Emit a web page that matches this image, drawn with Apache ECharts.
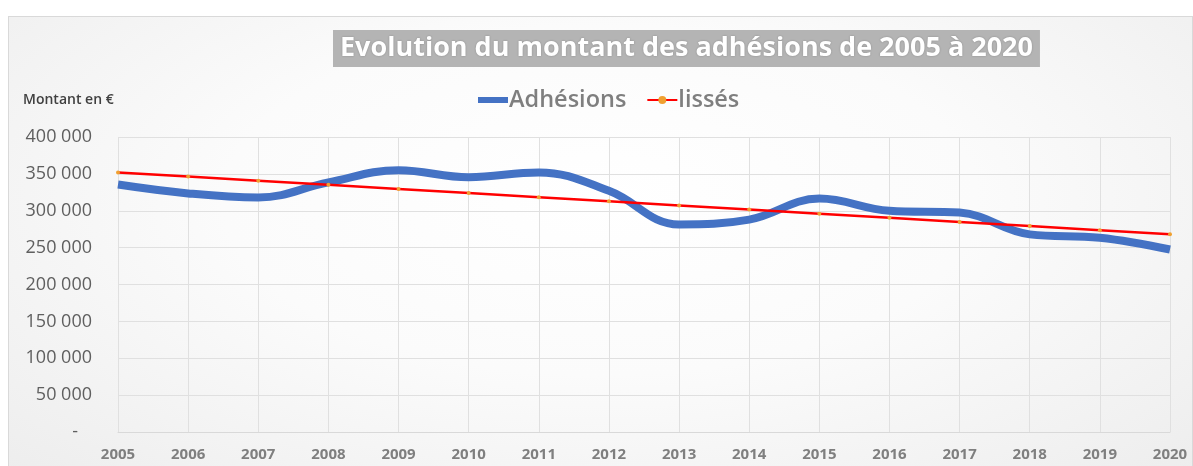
<!DOCTYPE html>
<html>
<head>
<meta charset="utf-8">
<script src="https://cdn.jsdelivr.net/npm/echarts@6/dist/echarts.min.js"></script>
<style>
  html, body { margin: 0; padding: 0; background: #ffffff; width: 1193px; height: 466px; overflow: hidden; }
  #box { position: absolute; left: 8px; top: 16px; width: 1185px; height: 460px; box-sizing: border-box;
         border: 1px solid #d9d9d9;
         background: radial-gradient(ellipse at 50% 40%, #ffffff 0%, #fbfbfb 45%, #ededed 100%); }
  #chart { position: absolute; left: 0; top: 0; width: 1185px; height: 450px; }
</style>
</head>
<body>
<div id="box"><div id="chart"></div></div>
<script>
const years = ['2005','2006','2007','2008','2009','2010','2011','2012','2013','2014','2015','2016','2017','2018','2019','2020'];
const adhesions = [335500, 323500, 318000, 338500, 355000, 345500, 352000, 327000, 281500, 288000, 316500, 300000, 297500, 268000, 263500, 247500];
const lisses = [352000, 346400, 340800, 335200, 329600, 324000, 318400, 312800, 307200, 301600, 296000, 290400, 284800, 279200, 273600, 268000];
const titleText = 'Evolution du montant des adhésions de 2005 à 2020';
const yAxisTitle = 'Montant en €';

const chart = echarts.init(document.getElementById('chart'), null, { renderer: 'canvas' });
const font = "'Open Sans', 'Noto Sans', sans-serif";
chart.setOption({
  backgroundColor: 'transparent',
  animation: false,
  title: {
    text: titleText,
    left: 324, top: 13,
    backgroundColor: '#b4b4b4',
    padding: [2, 7, 2, 7],
    textStyle: { color: '#ffffff', fontSize: 27, fontWeight: 'bold', fontFamily: font, lineHeight: 33,
                 textShadowColor: 'rgba(0,0,0,0.25)', textShadowBlur: 2 }
  },
  legend: {
    left: 464, top: 66,
    itemGap: 20,
    itemWidth: 30, itemHeight: 10,
    textStyle: { color: '#7f7f7f', fontSize: 23.5, fontWeight: 600, fontFamily: font, padding: [0,0,0,-4] },
    data: [
      { name: 'Adhésions', icon: 'path://M0,3 L30,3 L30,9 L0,9 Z', itemStyle: { color: '#4472c4' } },
      { name: 'lissés' }
    ]
  },
  graphic: [{
    type: 'text', left: 14, top: 76,
    style: { text: yAxisTitle, fill: '#404040', font: "600 14px 'Open Sans', sans-serif" }
  }],
  grid: { left: 109, right: 24, top: 120, bottom: 35 },
  xAxis: {
    type: 'category',
    data: years,
    boundaryGap: false,
    axisLine: { lineStyle: { color: '#d9d9d9' } },
    axisTick: { show: false },
    splitLine: { show: true, lineStyle: { color: '#e0e0e0' } },
    axisLabel: { color: '#7f7f7f', fontSize: 15, fontWeight: 'bold', fontFamily: font, margin: 15 }
  },
  yAxis: {
    type: 'value',
    min: 0, max: 400000, interval: 50000,
    axisLine: { show: false },
    axisTick: { show: false },
    splitLine: { lineStyle: { color: '#e0e0e0' } },
    axisLabel: {
      color: '#5f5f5f', fontSize: 18, fontFamily: font, margin: 26,
      formatter: function (v) {
        if (v === 0) return '-\u00a0\u00a0\u00a0';
        return String(v).replace(/\B(?=(\d{3})+(?!\d))/g, ' ');
      }
    }
  },
  series: [
    {
      name: 'Adhésions', type: 'line', data: adhesions, smooth: 0.4,
      showSymbol: false, symbol: 'none',
      lineStyle: { color: '#4472c4', width: 8 },
      itemStyle: { color: '#4472c4' },
      z: 2
    },
    {
      name: 'lissés', type: 'line', data: lisses,
      symbol: 'circle', symbolSize: 4, showSymbol: true,
      lineStyle: { color: '#ff0000', width: 2.5 },
      itemStyle: { color: '#f0a030', borderWidth: 0 },
      z: 3
    }
  ]
});
</script>
</body>
</html>
